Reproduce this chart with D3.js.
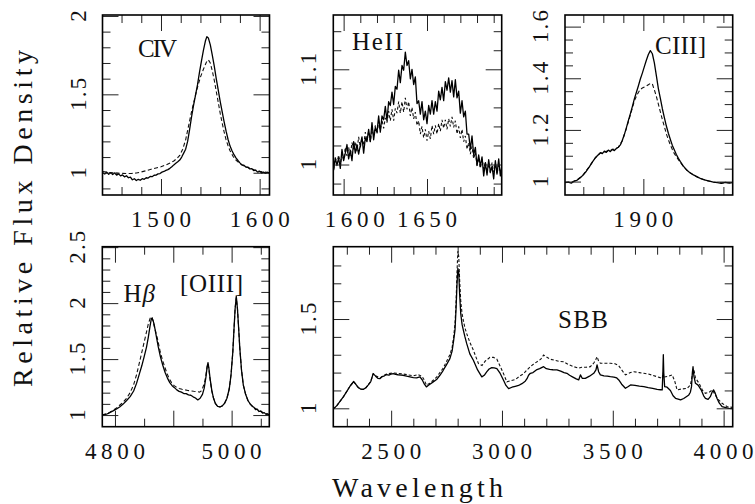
<!DOCTYPE html>
<html><head><meta charset="utf-8">
<script src="https://cdn.jsdelivr.net/npm/d3@7"></script>
<style>
html,body{margin:0;padding:0;background:#fff;}
svg{display:block;}
text{font-family:"Liberation Serif","DejaVu Serif","Times New Roman",serif;fill:#111;}
</style></head><body>
<svg id="chart" width="755" height="504" font-family="Liberation Serif, DejaVu Serif, serif"></svg>
<script>
// ---------------- DATA ----------------
// CIV panel
const civXDomain = [1440.7, 1610];
const civYDomain = [0.858, 2.006];
const civXMajor = [1500, 1600];
const civXMinor = [1460, 1480, 1520, 1540, 1560, 1580];
const civYMajor = [1, 1.5, 2];
const civYMinor = [0.9, 1.1, 1.2, 1.3, 1.4, 1.6, 1.7, 1.8, 1.9];
const civSolid = [[1441,1.000],[1443,0.992],[1445,1.003],[1447,0.990],[1449,1.001],[1451,0.989],[1453,0.998],[1455,0.985],[1457,0.993],[1459,0.980],[1461,0.986],[1463,0.974],[1465,0.981],[1467,0.968],[1469,0.972],[1471,0.955],[1473,0.962],[1475,0.950],[1477,0.958],[1479,0.952],[1481,0.962],[1483,0.958],[1485,0.968],[1487,0.966],[1489,0.976],[1491,0.975],[1493,0.984],[1495,0.985],[1497,0.993],[1499,0.995],[1501,1.004],[1503,1.008],[1505,1.015],[1507,1.020],[1509,1.028],[1511,1.038],[1513,1.050],[1515,1.060],[1517,1.070],[1519,1.081],[1521,1.100],[1523,1.125],[1525,1.150],[1527,1.200],[1529,1.275],[1531,1.357],[1533,1.430],[1535,1.495],[1537,1.560],[1539,1.640],[1541,1.712],[1543,1.780],[1545,1.840],[1546.5,1.868],[1548,1.860],[1550,1.815],[1552,1.750],[1554,1.680],[1556,1.600],[1558,1.528],[1560,1.455],[1562,1.390],[1564,1.325],[1566,1.265],[1568,1.212],[1570,1.170],[1572,1.140],[1574,1.115],[1576,1.095],[1578,1.078],[1580,1.063],[1582,1.050],[1584,1.048],[1586,1.036],[1588,1.036],[1590,1.024],[1592,1.026],[1594,1.014],[1596,1.016],[1598,1.004],[1600,1.009],[1602,0.998],[1604,1.004],[1606,0.996],[1608,1.002],[1610,0.997]];
const civDash = [[1441,1.008],[1445,1.004],[1450,1.000],[1455,0.998],[1460,0.996],[1465,0.995],[1470,0.995],[1475,0.998],[1480,1.005],[1485,1.013],[1490,1.022],[1495,1.030],[1500,1.038],[1505,1.050],[1510,1.065],[1513,1.075],[1516,1.090],[1519,1.110],[1522,1.150],[1525,1.210],[1528,1.300],[1531,1.390],[1534,1.470],[1537,1.545],[1540,1.610],[1543,1.660],[1546,1.705],[1548,1.720],[1550,1.700],[1552,1.650],[1554,1.590],[1556,1.520],[1558,1.450],[1560,1.380],[1562,1.318],[1564,1.260],[1566,1.210],[1568,1.172],[1570,1.140],[1573,1.105],[1576,1.080],[1580,1.058],[1585,1.040],[1590,1.028],[1595,1.018],[1600,1.010],[1605,1.004],[1610,1.000]];

// HeII panel
const heiiXDomain = [1593.8, 1694.8];
const heiiYDomain = [0.968, 1.157];
const heiiXMajor = [1600, 1650];
const heiiXMinor = [1610, 1620, 1630, 1640, 1660, 1670, 1680, 1690];
const heiiYMajor = [1, 1.1];
const heiiYMinor = [0.98, 1.02, 1.04, 1.06, 1.08, 1.12, 1.14];
const heiiSolid = [[1594,0.994],[1595,1.007],[1596,0.999],[1597,1.007],[1598,0.996],[1599,1.016],[1600,1.004],[1601,1.012],[1602,1.021],[1603,1.006],[1604,1.015],[1605,1.004],[1606,1.024],[1607,1.012],[1608,1.021],[1609,1.011],[1610,1.020],[1611,1.029],[1612,1.012],[1613,1.028],[1614,1.024],[1615,1.037],[1616,1.024],[1617,1.044],[1618,1.026],[1619,1.039],[1620,1.034],[1621,1.051],[1622,1.034],[1623,1.051],[1624,1.047],[1625,1.061],[1626,1.046],[1627,1.066],[1628,1.062],[1629,1.076],[1630,1.063],[1631,1.082],[1632,1.079],[1633,1.099],[1634,1.086],[1635,1.104],[1636,1.099],[1637,1.118],[1638,1.104],[1639,1.109],[1640,1.090],[1641,1.100],[1642,1.084],[1643,1.092],[1644,1.064],[1645,1.067],[1646,1.053],[1647,1.066],[1648,1.047],[1649,1.056],[1650,1.043],[1651,1.062],[1652,1.053],[1653,1.067],[1654,1.053],[1655,1.066],[1656,1.056],[1657,1.077],[1658,1.068],[1659,1.081],[1660,1.067],[1661,1.087],[1662,1.078],[1663,1.091],[1664,1.076],[1665,1.088],[1666,1.071],[1667,1.089],[1668,1.070],[1669,1.077],[1670,1.054],[1671,1.067],[1672,1.050],[1673,1.056],[1674,1.032],[1675,1.032],[1676,1.016],[1677,1.030],[1678,1.010],[1679,1.018],[1680,0.999],[1681,1.010],[1682,0.998],[1683,1.008],[1684,0.988],[1685,1.002],[1686,0.989],[1687,1.005],[1688,0.992],[1689,0.998],[1690,0.985],[1691,1.004],[1692,0.990],[1693,1.006],[1694,0.988],[1695,1.000]];
const heiiDash = [[1594,0.995],[1595,1.007],[1596,1.001],[1597,1.010],[1598,1.000],[1599,1.011],[1600,1.005],[1601,1.018],[1602,1.009],[1603,1.018],[1604,1.009],[1605,1.023],[1606,1.016],[1607,1.024],[1608,1.014],[1609,1.029],[1610,1.018],[1611,1.027],[1612,1.020],[1613,1.034],[1614,1.025],[1615,1.035],[1616,1.024],[1617,1.036],[1618,1.031],[1619,1.041],[1620,1.032],[1621,1.045],[1622,1.036],[1623,1.047],[1624,1.038],[1625,1.049],[1626,1.044],[1627,1.056],[1628,1.046],[1629,1.058],[1630,1.046],[1631,1.059],[1632,1.054],[1633,1.066],[1634,1.054],[1635,1.066],[1636,1.055],[1637,1.070],[1638,1.058],[1639,1.066],[1640,1.051],[1641,1.060],[1642,1.048],[1643,1.055],[1644,1.041],[1645,1.046],[1646,1.032],[1647,1.040],[1648,1.028],[1649,1.037],[1650,1.025],[1651,1.035],[1652,1.027],[1653,1.041],[1654,1.032],[1655,1.041],[1656,1.032],[1657,1.043],[1658,1.035],[1659,1.047],[1660,1.038],[1661,1.047],[1662,1.037],[1663,1.048],[1664,1.040],[1665,1.050],[1666,1.039],[1667,1.046],[1668,1.032],[1669,1.040],[1670,1.028],[1671,1.037],[1672,1.024],[1673,1.030],[1674,1.016],[1675,1.023],[1676,1.011],[1677,1.019],[1678,1.006],[1679,1.013],[1680,0.999],[1681,1.007],[1682,0.996],[1683,1.006],[1684,0.995],[1685,1.003],[1686,0.991],[1687,1.001],[1688,0.991],[1689,1.002],[1690,0.992],[1691,1.001],[1692,0.990],[1693,1.000],[1694,0.991],[1695,0.999]];

// CIII] panel
const ciiiXDomain = [1821.7, 1989.3];
const ciiiYDomain = [0.948, 1.645];
const ciiiXMajor = [1900];
const ciiiXMinor = [1840, 1860, 1880, 1920, 1940, 1960, 1980];
const ciiiYMajor = [1, 1.2, 1.4, 1.6];
const ciiiYMinor = [1.05, 1.1, 1.15, 1.25, 1.3, 1.35, 1.45, 1.5, 1.55];
const ciiiSolid = [[1822,0.996],[1825,0.998],[1828,0.994],[1831,1.002],[1834,1.006],[1837,1.015],[1840,1.026],[1843,1.040],[1846,1.057],[1849,1.075],[1852,1.092],[1855,1.104],[1857,1.112],[1859,1.108],[1861,1.118],[1863,1.113],[1865,1.122],[1867,1.116],[1869,1.125],[1871,1.120],[1873,1.128],[1875,1.133],[1877,1.142],[1879,1.160],[1881,1.182],[1883,1.208],[1885,1.236],[1887,1.262],[1889,1.290],[1891,1.320],[1893,1.345],[1895,1.370],[1897,1.397],[1899,1.420],[1901,1.445],[1903,1.470],[1905,1.492],[1907,1.507],[1909,1.495],[1911,1.460],[1913,1.410],[1915,1.360],[1917,1.322],[1919,1.282],[1921,1.248],[1923,1.215],[1925,1.187],[1927,1.163],[1929,1.140],[1931,1.122],[1933,1.105],[1935,1.090],[1937,1.077],[1940,1.060],[1943,1.046],[1946,1.036],[1950,1.026],[1954,1.018],[1958,1.010],[1962,1.006],[1966,1.002],[1970,0.998],[1974,0.996],[1978,0.993],[1982,0.997],[1986,0.994],[1989,0.996]];
const ciiiDash = [[1822,0.997],[1828,0.997],[1834,1.007],[1840,1.027],[1846,1.058],[1852,1.092],[1857,1.110],[1863,1.117],[1869,1.123],[1875,1.133],[1879,1.158],[1883,1.205],[1887,1.258],[1889,1.285],[1891,1.312],[1893,1.330],[1895,1.345],[1897,1.357],[1899,1.362],[1901,1.366],[1903,1.370],[1905,1.375],[1907,1.380],[1909,1.378],[1911,1.355],[1913,1.330],[1915,1.300],[1917,1.270],[1919,1.240],[1921,1.213],[1923,1.185],[1925,1.162],[1927,1.142],[1929,1.124],[1931,1.108],[1933,1.097],[1935,1.085],[1937,1.074],[1940,1.058],[1946,1.035],[1954,1.017],[1962,1.005],[1970,0.998],[1978,0.995],[1989,0.996]];

// Hbeta / [OIII] panel
const hbXDomain = [4778.3, 5064.6];
const hbYDomain = [0.896, 2.504];
const hbXMajor = [4800, 4900, 5000];
const hbXLabels = [4800, 5000];
const hbXMinor = [4850, 4950, 5050];
const hbYMajor = [1, 1.5, 2, 2.5];
const hbYMinor = [1.1, 1.2, 1.3, 1.4, 1.6, 1.7, 1.8, 1.9, 2.1, 2.2, 2.3, 2.4];
const hbSolid = [[4778,1.000],[4784,1.005],[4790,1.018],[4796,1.035],[4802,1.052],[4808,1.072],[4814,1.098],[4820,1.130],[4826,1.165],[4832,1.215],[4837,1.283],[4842,1.370],[4846,1.440],[4850,1.520],[4854,1.605],[4857,1.690],[4860,1.790],[4862,1.850],[4863,1.864],[4865,1.850],[4867,1.815],[4870,1.730],[4874,1.615],[4878,1.520],[4882,1.445],[4886,1.380],[4890,1.330],[4894,1.290],[4898,1.262],[4902,1.245],[4906,1.225],[4910,1.212],[4914,1.205],[4918,1.192],[4922,1.192],[4926,1.180],[4930,1.177],[4934,1.163],[4938,1.152],[4942,1.135],[4946,1.150],[4950,1.185],[4953,1.240],[4956,1.340],[4958,1.430],[4959.5,1.468],[4961,1.420],[4963,1.330],[4966,1.220],[4969,1.150],[4972,1.105],[4976,1.078],[4980,1.072],[4984,1.082],[4988,1.105],[4992,1.150],[4996,1.235],[4999,1.360],[5002,1.560],[5004,1.760],[5006,1.950],[5008,2.060],[5010,1.950],[5012,1.780],[5014,1.600],[5017,1.400],[5020,1.270],[5024,1.185],[5028,1.130],[5032,1.098],[5035,1.080],[5038,1.070],[5041,1.048],[5044,1.052],[5047,1.032],[5050,1.036],[5053,1.018],[5056,1.022],[5059,1.006],[5062,1.010],[5065,1.000]];
const hbDash = [[4778,1.000],[4790,1.022],[4802,1.060],[4814,1.115],[4820,1.150],[4826,1.200],[4832,1.270],[4837,1.360],[4842,1.470],[4846,1.560],[4850,1.650],[4854,1.740],[4857,1.810],[4860,1.860],[4862,1.880],[4864,1.870],[4866,1.820],[4869,1.760],[4873,1.680],[4877,1.580],[4881,1.500],[4885,1.435],[4889,1.375],[4893,1.325],[4897,1.290],[4901,1.265],[4905,1.250],[4910,1.238],[4915,1.230],[4920,1.225],[4925,1.220],[4930,1.215],[4935,1.212],[4940,1.210],[4945,1.205],[4948,1.215],[4951,1.250],[4954,1.300],[4956,1.360],[4958,1.430],[4959.5,1.460],[4961,1.410],[4963,1.320],[4966,1.215],[4969,1.150],[4972,1.105],[4976,1.078],[4980,1.072],[4984,1.082],[4988,1.105],[4992,1.150],[4996,1.235],[4999,1.360],[5002,1.560],[5004,1.760],[5006,1.950],[5008,2.050],[5010,1.950],[5012,1.780],[5014,1.600],[5017,1.400],[5020,1.270],[5024,1.185],[5028,1.130],[5032,1.098],[5038,1.068],[5044,1.048],[5050,1.032],[5056,1.018],[5065,1.002]];

// SBB panel
const sbbXDomain = [2239, 4041];
const sbbYDomain = [0.897, 1.905];
const sbbXMajor = [2500, 3000, 3500, 4000];
const sbbXMinor = [2300, 2400, 2600, 2700, 2800, 2900, 3100, 3200, 3300, 3400, 3600, 3700, 3800, 3900];
const sbbYMajor = [1, 1.5];
const sbbYMinor = [1.1, 1.2, 1.3, 1.4, 1.6, 1.7, 1.8];
const sbbSolid = [[2238,0.995],[2255,1.015],[2270,1.040],[2285,1.065],[2300,1.095],[2315,1.125],[2331,1.150],[2340,1.135],[2351,1.117],[2362,1.108],[2374,1.106],[2386,1.115],[2396,1.130],[2408,1.150],[2419,1.194],[2430,1.180],[2440,1.168],[2449,1.166],[2460,1.178],[2470,1.182],[2479,1.189],[2490,1.186],[2500,1.192],[2509,1.194],[2520,1.190],[2530,1.188],[2545,1.186],[2554,1.185],[2570,1.180],[2585,1.176],[2600,1.172],[2615,1.170],[2630,1.176],[2640,1.160],[2650,1.135],[2659,1.120],[2667,1.128],[2675,1.135],[2690,1.148],[2705,1.161],[2720,1.185],[2735,1.213],[2750,1.245],[2765,1.278],[2775,1.320],[2782,1.380],[2788,1.437],[2793,1.560],[2797,1.690],[2801,1.784],[2805,1.760],[2809,1.640],[2814,1.530],[2820,1.470],[2826,1.437],[2833,1.400],[2841,1.362],[2855,1.305],[2871,1.269],[2890,1.215],[2909,1.176],[2920,1.185],[2931,1.204],[2942,1.220],[2954,1.228],[2965,1.226],[2977,1.222],[2992,1.195],[3007,1.157],[3018,1.128],[3030,1.110],[3045,1.118],[3060,1.123],[3075,1.128],[3090,1.138],[3105,1.152],[3113,1.166],[3120,1.185],[3128,1.196],[3140,1.200],[3155,1.215],[3170,1.222],[3188,1.233],[3200,1.222],[3215,1.218],[3230,1.216],[3248,1.215],[3265,1.208],[3280,1.200],[3293,1.196],[3305,1.185],[3320,1.175],[3335,1.165],[3346,1.159],[3354,1.187],[3362,1.168],[3376,1.168],[3395,1.180],[3414,1.196],[3424,1.215],[3429,1.243],[3436,1.205],[3444,1.187],[3460,1.182],[3475,1.180],[3489,1.177],[3505,1.175],[3518,1.170],[3527,1.159],[3540,1.135],[3557,1.112],[3570,1.122],[3580,1.131],[3600,1.128],[3620,1.124],[3640,1.121],[3660,1.116],[3680,1.112],[3700,1.106],[3715,1.104],[3723,1.103],[3726,1.200],[3728,1.300],[3730,1.200],[3734,1.121],[3745,1.118],[3760,1.100],[3772,1.070],[3783,1.056],[3795,1.052],[3806,1.047],[3820,1.055],[3835,1.068],[3843,1.075],[3850,1.090],[3855,1.120],[3859,1.200],[3862,1.233],[3866,1.180],[3873,1.140],[3885,1.130],[3900,1.100],[3910,1.070],[3918,1.056],[3930,1.050],[3940,1.065],[3948,1.090],[3955,1.103],[3962,1.085],[3970,1.056],[3980,1.030],[3993,1.009],[4010,1.004],[4025,1.000],[4040,0.998]];
const sbbDash = [[2238,0.995],[2255,1.015],[2270,1.040],[2285,1.065],[2300,1.095],[2315,1.125],[2331,1.150],[2340,1.135],[2351,1.117],[2362,1.108],[2374,1.106],[2386,1.115],[2396,1.130],[2408,1.150],[2419,1.194],[2430,1.182],[2449,1.170],[2479,1.192],[2509,1.198],[2554,1.192],[2600,1.182],[2622,1.189],[2640,1.178],[2650,1.157],[2659,1.130],[2675,1.140],[2690,1.157],[2705,1.175],[2735,1.225],[2765,1.300],[2775,1.340],[2782,1.400],[2788,1.470],[2793,1.600],[2797,1.760],[2801,1.880],[2805,1.850],[2809,1.720],[2814,1.600],[2820,1.530],[2826,1.490],[2833,1.450],[2841,1.418],[2855,1.370],[2871,1.325],[2894,1.250],[2910,1.240],[2925,1.265],[2946,1.285],[2962,1.285],[2977,1.275],[2992,1.235],[3007,1.194],[3022,1.148],[3040,1.155],[3060,1.161],[3080,1.180],[3098,1.194],[3113,1.215],[3128,1.233],[3145,1.250],[3160,1.262],[3175,1.275],[3188,1.298],[3200,1.288],[3218,1.275],[3240,1.268],[3260,1.262],[3278,1.261],[3300,1.245],[3324,1.233],[3345,1.225],[3360,1.230],[3380,1.230],[3399,1.233],[3415,1.255],[3424,1.275],[3429,1.289],[3436,1.265],[3444,1.252],[3465,1.252],[3489,1.252],[3510,1.250],[3527,1.238],[3540,1.215],[3557,1.187],[3580,1.200],[3595,1.205],[3620,1.200],[3640,1.196],[3660,1.192],[3680,1.185],[3700,1.177],[3723,1.168],[3727,1.200],[3731,1.175],[3745,1.178],[3768,1.187],[3780,1.150],[3790,1.103],[3810,1.108],[3836,1.112],[3850,1.130],[3858,1.180],[3866,1.215],[3873,1.170],[3889,1.140],[3905,1.100],[3918,1.084],[3935,1.090],[3949,1.103],[3960,1.080],[3975,1.050],[3993,1.028],[4015,1.010],[4040,1.005]];

const panelNames = ["CIV", "HeII", "CIII]", "[OIII]", "SBB"];
const yTitle = "Relative Flux Density";
const xTitle = "Wavelength";

// ---------------- LAYOUT ----------------
const svg = d3.select("#chart");
const FONT = "Liberation Serif, DejaVu Serif, serif";
const panels = [
  {key:"civ", box:[102.5,15,269.5,195], xd:civXDomain, yd:civYDomain, xMaj:civXMajor, xLab:civXMajor, xMin:civXMinor, yMaj:civYMajor, yMin:civYMinor, solid:civSolid, dash:civDash, labShift:{}, dashPat:"4,2.5"},
  {key:"heii", box:[333.3,15,501.7,195], xd:heiiXDomain, yd:heiiYDomain, xMaj:heiiXMajor, xLab:heiiXMajor, xMin:heiiXMinor, yMaj:heiiYMajor, yMin:heiiYMinor, solid:heiiSolid, dash:heiiDash, labShift:{1600:11}, dashPat:"3,2.5"},
  {key:"ciii", box:[565,15,732.7,195], xd:ciiiXDomain, yd:ciiiYDomain, xMaj:ciiiXMajor, xLab:ciiiXMajor, xMin:ciiiXMinor, yMaj:ciiiYMajor, yMin:ciiiYMinor, solid:ciiiSolid, dash:ciiiDash, labShift:{}, dashPat:"4,2.5"},
  {key:"hb", box:[102.3,246.7,269.3,426.7], xd:hbXDomain, yd:hbYDomain, xMaj:hbXMajor, xLab:hbXLabels, xMin:hbXMinor, yMaj:hbYMajor, yMin:hbYMinor, solid:hbSolid, dash:hbDash, labShift:{}, dashPat:"4,2.5"},
  {key:"sbb", box:[333.3,246.7,732.7,426.7], xd:sbbXDomain, yd:sbbYDomain, xMaj:sbbXMajor, xLab:sbbXMajor, xMin:sbbXMinor, yMaj:sbbYMajor, yMin:sbbYMinor, solid:sbbSolid, dash:sbbDash, labShift:{}, dashPat:"3,2"}
];

const MAJ = 16, MIN = 8;
const fmt = d => String(d);
const labWidth = s => [...s].reduce((a,c)=>a+(c==="."?3:15),0);

panels.forEach(p => {
  const [x0,y0,x1,y1] = p.box;
  const x = d3.scaleLinear().domain(p.xd).range([x0,x1]);
  const y = d3.scaleLinear().domain(p.yd).range([y1,y0]);
  const g = svg.append("g");
  const cid = "clip-"+p.key;
  svg.append("clipPath").attr("id",cid).append("rect")
    .attr("x",x0).attr("y",y0).attr("width",x1-x0).attr("height",y1-y0);
  const line = d3.line().x(d=>x(d[0])).y(d=>y(d[1]));
  g.append("path").datum(p.dash).attr("d",line).attr("fill","none")
    .attr("stroke","#111").attr("stroke-width",1.1).attr("stroke-dasharray",p.dashPat)
    .attr("clip-path",`url(#${cid})`);
  g.append("path").datum(p.solid).attr("d",line).attr("fill","none")
    .attr("stroke","#000").attr("stroke-width",1.3).attr("stroke-linejoin","round")
    .attr("clip-path",`url(#${cid})`);

  const addAxis = (axis, tr) => {
    g.append("g").attr("transform",tr).call(axis)
      .call(s=>s.select(".domain").remove())
      .call(s=>s.selectAll("line").attr("stroke","#222").attr("stroke-width",1));
  };
  [[p.xMin,MIN],[p.xMaj,MAJ]].forEach(([vals,len])=>{
    addAxis(d3.axisBottom(x).tickValues(vals).tickSize(-len).tickFormat(""), `translate(0,${y1})`);
    addAxis(d3.axisTop(x).tickValues(vals).tickSize(-len).tickFormat(""), `translate(0,${y0})`);
  });
  [[p.yMin,MIN],[p.yMaj,MAJ]].forEach(([vals,len])=>{
    addAxis(d3.axisLeft(y).tickValues(vals).tickSize(-len).tickFormat(""), `translate(${x0},0)`);
    addAxis(d3.axisRight(y).tickValues(vals).tickSize(-len).tickFormat(""), `translate(${x1},0)`);
  });

  g.append("rect").attr("x",x0).attr("y",y0).attr("width",x1-x0).attr("height",y1-y0)
    .attr("fill","none").attr("stroke","#000").attr("stroke-width",1.6);

  // x tick labels
  g.selectAll("text.xl").data(p.xLab).join("text").attr("class","xl")
    .attr("x",d=>x(d)+(p.labShift[d]||0)).attr("y",y1+32)
    .attr("text-anchor","middle").attr("font-size",23).attr("font-family",FONT)
    .attr("textLength",d=>labWidth(fmt(d))).attr("lengthAdjust","spacing")
    .text(fmt);
  // y tick labels (rotated)
  g.selectAll("text.yl").data(p.yMaj).join("text").attr("class","yl")
    .attr("transform",d=>`translate(${x0-17},${y(d)}) rotate(-90)`)
    .attr("text-anchor","middle").attr("font-size",23).attr("font-family",FONT)
    .attr("textLength",d=>fmt(d).length>1?labWidth(fmt(d)):null).attr("lengthAdjust","spacing")
    .text(fmt);
});

// panel labels
const lab = (t, x, y, w) => svg.append("text").attr("x",x).attr("y",y).attr("font-size",25)
  .attr("font-family",FONT).attr("textLength",w).attr("lengthAdjust","spacing").text(t);
lab(panelNames[0], 138, 57, 39);
lab(panelNames[1], 352, 50, 51);
lab(panelNames[2], 655, 53.5, 51);
lab(panelNames[3], 180, 291.5, 63);
lab(panelNames[4], 558, 328.3, 50);
// H beta with Greek letter
const hb = svg.append("text").attr("x",123.5).attr("y",301.5).attr("font-size",25).attr("font-family",FONT);
hb.append("tspan").text("H");
hb.append("tspan").attr("font-style","italic").attr("dx",1).text("β");

// axis titles
svg.append("text").attr("transform","translate(32,218.5) rotate(-90)")
  .attr("text-anchor","middle").attr("font-size",28).attr("font-family",FONT)
  .attr("textLength",337).attr("lengthAdjust","spacing").text(yTitle);
svg.append("text").attr("x",417.5).attr("y",497)
  .attr("text-anchor","middle").attr("font-size",28).attr("font-family",FONT)
  .attr("textLength",171).attr("lengthAdjust","spacing").text(xTitle);
</script>
</body></html>
